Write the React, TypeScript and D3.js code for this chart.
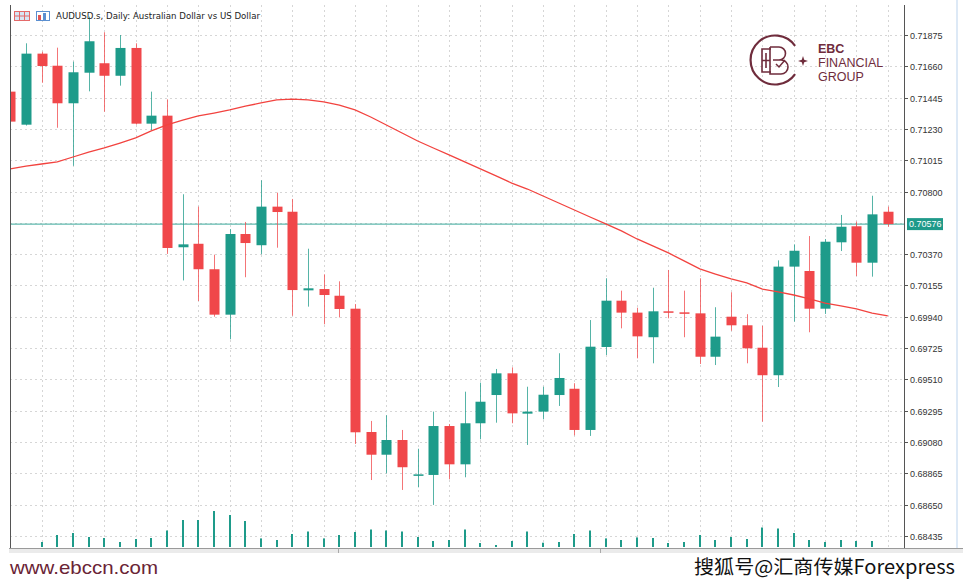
import React from 'react';
import * as d3 from 'd3';

// ─── 数据（从图中读取的 AUDUSD 日线）───────────────────────────

const opens = [
  0.71486, 0.71259, 0.71747, 0.71664, 0.71406, 0.71616, 0.71681, 0.71595, 0.71786, 0.71266,
  0.71321, 0.70417, 0.70441, 0.70266, 0.69954, 0.70508, 0.70431, 0.70696, 0.70661, 0.70121,
  0.70130, 0.70084, 0.69995, 0.69148, 0.68992, 0.69093, 0.68848, 0.68853, 0.69189, 0.68926,
  0.69208, 0.69402, 0.69551, 0.69274, 0.69288, 0.69402, 0.69445, 0.69162, 0.69732, 0.70050,
  0.69968, 0.69799, 0.69977, 0.69970, 0.69963, 0.69665, 0.69940, 0.69881, 0.69727, 0.69538,
  0.70284, 0.70254, 0.69995, 0.70451, 0.70561, 0.70311, 0.70661,
];
const highs = [
  0.71497, 0.71818, 0.71760, 0.71788, 0.71692, 0.72001, 0.71894, 0.71875, 0.71818, 0.71486,
  0.71433, 0.70781, 0.70696, 0.70366, 0.70542, 0.70591, 0.70877, 0.70792, 0.70749, 0.70407,
  0.70231, 0.70183, 0.70027, 0.69224, 0.69263, 0.69162, 0.69033, 0.69288, 0.69203, 0.69425,
  0.69487, 0.69581, 0.69592, 0.69459, 0.69459, 0.69689, 0.69483, 0.69917, 0.70204, 0.70119,
  0.70002, 0.70139, 0.70261, 0.70119, 0.70204, 0.70005, 0.70108, 0.69957, 0.69878, 0.70327,
  0.70437, 0.70494, 0.70474, 0.70639, 0.70593, 0.70771, 0.70696,
];
const lows = [
  0.71264, 0.71253, 0.71547, 0.71238, 0.70977, 0.71488, 0.71348, 0.71527, 0.71260, 0.71222,
  0.70371, 0.70189, 0.70048, 0.69940, 0.69785, 0.70211, 0.70369, 0.70414, 0.69947, 0.70009,
  0.69888, 0.69935, 0.69066, 0.68818, 0.68864, 0.68750, 0.68768, 0.68647, 0.68823, 0.68837,
  0.69098, 0.69212, 0.69208, 0.69059, 0.69235, 0.69327, 0.69125, 0.69121, 0.69677, 0.69860,
  0.69654, 0.69620, 0.69929, 0.69799, 0.69615, 0.69608, 0.69844, 0.69620, 0.69219, 0.69457,
  0.69906, 0.69833, 0.69959, 0.70391, 0.70220, 0.70215, 0.70558,
];
const closes = [
  0.71280, 0.71747, 0.71662, 0.71406, 0.71619, 0.71832, 0.71595, 0.71786, 0.71266, 0.71321,
  0.70412, 0.70437, 0.70266, 0.69954, 0.70508, 0.70446, 0.70696, 0.70659, 0.70123, 0.70135,
  0.70089, 0.69993, 0.69146, 0.68992, 0.69093, 0.68906, 0.68857, 0.69189, 0.68926, 0.69208,
  0.69356, 0.69551, 0.69276, 0.69288, 0.69404, 0.69519, 0.69162, 0.69734, 0.70050, 0.69968,
  0.69805, 0.69977, 0.69968, 0.69961, 0.69665, 0.69803, 0.69881, 0.69723, 0.69538, 0.70284,
  0.70393, 0.69995, 0.70455, 0.70558, 0.70311, 0.70643, 0.70576,
];
// 移动平均线
const maValues = [
  0.70955, 0.70975, 0.70989, 0.71003, 0.71037, 0.71071, 0.71099, 0.71133, 0.71168, 0.71216,
  0.71257, 0.71291, 0.71319, 0.71339, 0.71360, 0.71387, 0.71408, 0.71429, 0.71435, 0.71429,
  0.71415, 0.71394, 0.71360, 0.71312, 0.71257, 0.71202, 0.71147, 0.71099, 0.71051, 0.71003,
  0.70955, 0.70907, 0.70858, 0.70817, 0.70769, 0.70721, 0.70673, 0.70625, 0.70577, 0.70529,
  0.70474, 0.70426, 0.70378, 0.70323, 0.70268, 0.70233, 0.70199, 0.70172, 0.70130, 0.70110,
  0.70089, 0.70062, 0.70034, 0.70014, 0.69993, 0.69965, 0.69945,
];
// 成交量（tick）
const volumes = [
  0, 0, 5000, 12000, 14000, 10000, 9000, 5000, 8000, 9000,
  16500, 27000, 27000, 36000, 32000, 26000, 8600, 7000, 13000, 15500,
  8600, 12000, 15000, 17500, 16500, 15500, 10000, 6000, 7000, 17500,
  4000, 2000, 6000, 15500, 4300, 5000, 13000, 16500, 8600, 7000,
  9600, 9000, 4000, 5000, 12000, 7000, 10000, 8000, 19500, 18500,
  14000, 7000, 5000, 7000, 6000, 6000, 0,
];
const priceTicks = [
  0.71875, 0.71660, 0.71445, 0.71230, 0.71015, 0.70800, 0.70585, 0.70370, 0.70155,
  0.69940, 0.69725, 0.69510, 0.69295, 0.69080, 0.68865, 0.68650, 0.68435,
];
const lastPrice = 0.70576;

// ─── 样式 ────────────────────────────────────────────────
const UP = '#1e9b8a';
const DOWN = '#f0474a';
const MA_COLOR = '#f2433f';
const LOGO = '#6f2c3c';
const GRID = '#d6d6d6';

const W = 969;
const H = 583;
const plot = { left: 10, right: 904, top: 5, bottom: 548 };

const App: React.FC = () => {
  const x = d3.scaleLinear().domain([0, closes.length - 1]).range([10.3, 887.8]);
  const y = d3.scaleLinear().domain([0.68435, 0.71875]).range([535.8, 35]);
  const v = d3.scaleLinear().domain([0, d3.max(volumes) ?? 1]).range([547, 511]);

  const maLine = d3.line<number>().x((_, i) => x(i)).y(d => y(d))(maValues) ?? '';
  const bodyW = 10;

  const evenIdx = closes.map((_, i) => i).filter(i => i % 2 === 0 && i > 0);

  return (
    <div style={{ position: 'absolute', left: 0, top: 0 }}>
      <svg width={W} height={H} style={{ display: 'block', background: '#fff' }}>
        <defs>
          <clipPath id="plotClip">
            <rect x={plot.left + 0.5} y={plot.top} width={plot.right - plot.left - 0.5} height={plot.bottom - plot.top} />
          </clipPath>
        </defs>

        {/* 网格 */}
        <g stroke={GRID} strokeWidth={1} strokeDasharray="2,3">
          {priceTicks.map(t => (
            <line key={t} x1={plot.left} x2={plot.right} y1={Math.round(y(t)) + 0.5} y2={Math.round(y(t)) + 0.5} />
          ))}
          {evenIdx.map(i => (
            <line key={i} x1={Math.round(x(i)) + 0.5} x2={Math.round(x(i)) + 0.5} y1={plot.top} y2={plot.bottom} />
          ))}
        </g>

        {/* 右侧窗口边 */}
        <rect x={956} y={0} width={2} height={plot.bottom} fill="#dde9f6" />

        <g clipPath="url(#plotClip)">
          {/* 当前价横线 */}
          <line x1={plot.left} x2={plot.right} y1={y(lastPrice)} y2={y(lastPrice)} stroke="#3aa99b" strokeWidth={1} />

          {/* 成交量 */}
          {volumes.map((vol, i) => vol > 0 && (
            <rect key={`v${i}`} x={Math.round(x(i)) - 1} y={v(vol)} width={2} height={v(0) - v(vol)} fill={UP} />
          ))}

          {/* K线 */}
          {closes.map((c, i) => {
            const o = opens[i];
            const up = c >= o;
            const col = up ? UP : DOWN;
            const cx = Math.round(x(i)) + 0.5;
            const top = y(Math.max(o, c));
            const bot = y(Math.min(o, c));
            return (
              <g key={`c${i}`}>
                <line x1={cx} x2={cx} y1={y(highs[i])} y2={y(lows[i])} stroke={col} strokeOpacity={0.75} strokeWidth={1} />
                <rect x={cx - bodyW / 2} y={top} width={bodyW} height={Math.max(1.5, bot - top)} fill={col} />
              </g>
            );
          })}

          {/* 均线 */}
          <path d={maLine} fill="none" stroke={MA_COLOR} strokeWidth={1.3} />
        </g>

        {/* 边框 */}
        <line x1={plot.left + 0.5} x2={plot.left + 0.5} y1={plot.top} y2={plot.bottom} stroke="#555" />
        <line x1={plot.right + 0.5} x2={plot.right + 0.5} y1={plot.top} y2={plot.bottom} stroke="#555" />
        <line x1={9} x2={963} y1={548.5} y2={548.5} stroke="#9a9a9a" />
        <rect x={9} y={549} width={954} height={4} fill="#ebebeb" />
        <line x1={338.5} x2={338.5} y1={549} y2={553} stroke="#aaa" />
        <line x1={600.5} x2={600.5} y1={549} y2={553} stroke="#aaa" />

        {/* 价格轴 */}
        <g fontFamily="'Liberation Sans', Arial, sans-serif" fontSize={9} fill="#333">
          {priceTicks.map(t => {
            const ty = Math.round(y(t)) + 0.5;
            if (Math.abs(y(t) - y(lastPrice)) < 8) return null;
            return (
              <g key={t}>
                <line x1={plot.right} x2={plot.right + 4} y1={ty} y2={ty} stroke="#555" />
                <text x={910} y={ty + 3.2}>{t.toFixed(5)}</text>
              </g>
            );
          })}
          <rect x={907} y={y(lastPrice) - 6} width={36} height={12} fill="#1f9a8a" />
          <text x={909} y={y(lastPrice) + 3.3} fill="#fff">{lastPrice.toFixed(5)}</text>
        </g>

        {/* 标题图标与文字 */}
        <g>
          <rect x={14.5} y={11.5} width={15} height={9} fill="#d7e6f5" stroke="#e46a6a" />
          <line x1={19.5} x2={19.5} y1={11.5} y2={20.5} stroke="#e46a6a" />
          <line x1={24.5} x2={24.5} y1={11.5} y2={20.5} stroke="#e46a6a" />
          <line x1={14.5} x2={29.5} y1={16} y2={16} stroke="#e46a6a" />
          <rect x={36.5} y={11.5} width={13} height={9} fill="#fff" stroke="#5b8fd0" />
          <rect x={38} y={15} width={3} height={5} fill="#e05555" />
          <rect x={43} y={13} width={3} height={7} fill="#5b8fd0" />
          <text x={56} y={18.5} fontFamily="'DejaVu Sans', Tahoma, sans-serif" fontSize={8.6} fill="#222" textLength={204} lengthAdjust="spacingAndGlyphs">
            AUDUSD.s, Daily:  Australian Dollar vs US Dollar
          </text>
        </g>

        {/* EBC 标志 */}
        <g stroke={LOGO} fill="none" strokeWidth={2.2}>
          <path d="M795.1 45.9 A24.5 24.5 0 1 0 795.1 74.1" />
          <path d="M771 49 H762 V72 H771 M762 60.5 H770" strokeWidth={1.6} />
          <path d="M766 53 V68" strokeWidth={1.6} />
          <path d="M770 47 H779 A6.5 6.5 0 0 1 779 60 H773 M773 60 H781 A7 7 0 0 1 781 74 H770 V47" strokeWidth={1.6} />
          <path d="M776 64 L779 67 L785 60" strokeWidth={1.5} />
        </g>
        <path d="M803 56 L804.2 59.8 L808 61 L804.2 62.2 L803 66 L801.8 62.2 L798 61 L801.8 59.8 Z" fill={LOGO} />
        <g fontFamily="'Liberation Sans', Arial, sans-serif" fontSize={12.5} fill={LOGO}>
          <text x={818} y={53} fontWeight="bold">EBC</text>
          <text x={818} y={67}>FINANCIAL</text>
          <text x={818} y={80.5}>GROUP</text>
        </g>

        {/* 底部水印 */}
        <text x={10} y={574} fontFamily="'Liberation Sans', Arial, sans-serif" fontSize={19} fill="#6a2435" textLength={148} lengthAdjust="spacingAndGlyphs">
          www.ebccn.com
        </text>
        <text x={694} y={574} fontFamily="'Noto Sans CJK SC', sans-serif" fontSize={19.5} fill="#111" textLength={261} lengthAdjust="spacingAndGlyphs">
          搜狐号@汇商传媒Forexpress
        </text>
      </svg>
    </div>
  );
};

export default App;
